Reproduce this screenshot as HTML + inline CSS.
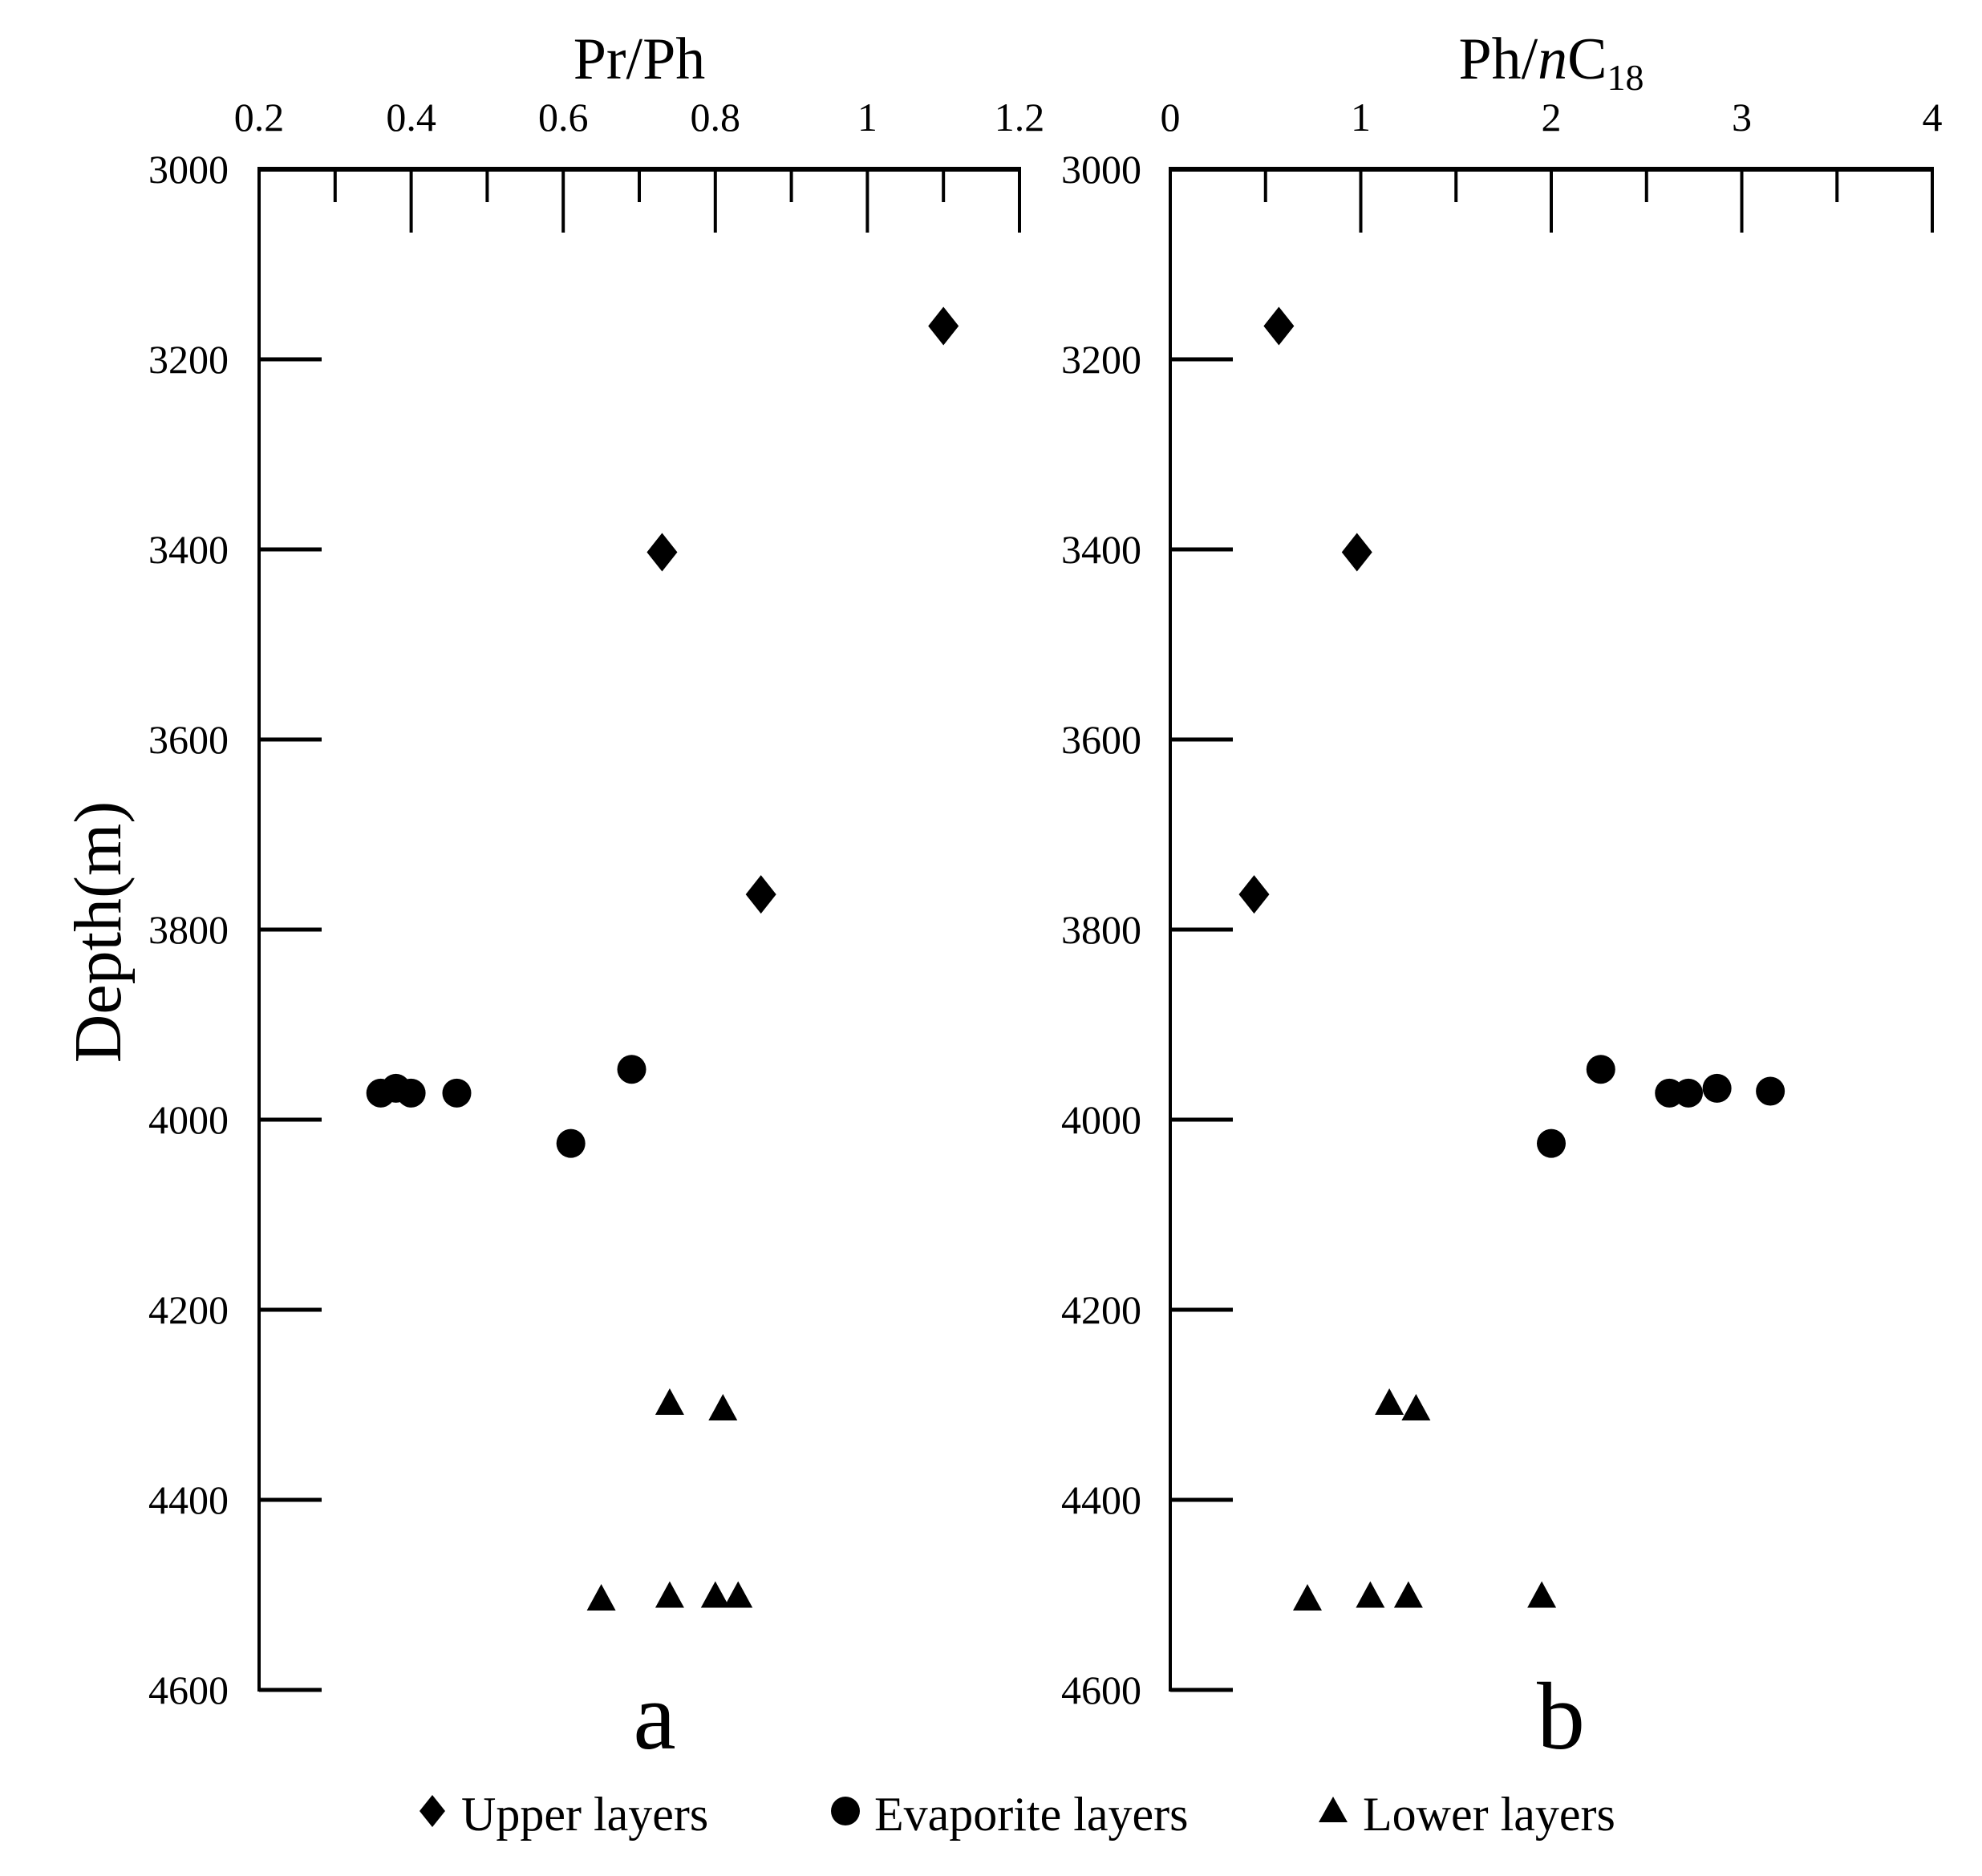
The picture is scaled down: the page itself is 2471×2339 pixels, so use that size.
<!DOCTYPE html>
<html><head><meta charset="utf-8"><style>
html,body{margin:0;padding:0;background:#fff;}
svg{display:block;}
text{font-family:"Liberation Serif",serif;fill:#000;}
</style></head><body>
<svg id="s" width="2471" height="2339" viewBox="0 0 2471 2339" xmlns="http://www.w3.org/2000/svg">
<text x="797" y="98" font-size="74" text-anchor="middle">Pr/Ph</text>
<text x="1934" y="98" font-size="74" text-anchor="middle">Ph/<tspan font-style="italic">n</tspan>C<tspan font-size="46" dy="14">18</tspan></text>
<text transform="translate(150,1162) rotate(-90)" font-size="84" text-anchor="middle">Depth(m)</text>
<text x="816" y="2180" font-size="120" text-anchor="middle">a</text>
<text x="1946" y="2180" font-size="120" text-anchor="middle">b</text>
<g font-size="60">
<polygon points="539,2238 555,2258 539,2278 523,2258"/>
<text x="575" y="2282">Upper layers</text>
<circle cx="1054" cy="2258" r="18"/>
<text x="1090" y="2282">Evaporite layers</text>
<polygon points="1662,2240 1680,2272 1644,2272"/>
<text x="1699" y="2282">Lower layers</text>
</g>
</svg>
<script>
var s=document.getElementById('s'),NS='http://www.w3.org/2000/svg';
function el(t,a,txt){var e=document.createElementNS(NS,t);for(var k in a)e.setAttribute(k,a[k]);if(txt!==undefined)e.textContent=txt;s.appendChild(e);return e;}
function Y(d){return 211+(d-3000)*1.185;}
function panel(x0,x1,xt,labels,minor,lx,pts,xf){
  el('line',{x1:x0,y1:211,x2:x1+2,y2:211,stroke:'#000','stroke-width':6});
  el('line',{x1:x0,y1:208,x2:x0,y2:Y(4600)+2,stroke:'#000','stroke-width':4});
  xt.forEach(function(x,i){el('line',{x1:x,y1:211,x2:x,y2:290,stroke:'#000','stroke-width':4});
    el('text',{x:x,y:163,'font-size':50,'text-anchor':'middle'},labels[i]);});
  minor.forEach(function(x){el('line',{x1:x,y1:211,x2:x,y2:252,stroke:'#000','stroke-width':4});});
  for(var d=3000;d<=4600;d+=200){var y=Y(d);
    if(d>3000)el('line',{x1:x0,y1:y,x2:x0+78,y2:y,stroke:'#000','stroke-width':5});
    el('text',{x:lx,y:y+17,'font-size':50,'text-anchor':'end'},d);}
  pts.forEach(function(p){var x=xf(p[1]),y=Y(p[2]);
    if(p[0]=='d')el('polygon',{points:(x)+','+(y-24)+' '+(x+19)+','+y+' '+x+','+(y+24)+' '+(x-19)+','+y});
    else if(p[0]=='c')el('circle',{cx:x,cy:y,r:18});
    else el('polygon',{points:x+','+(y-17)+' '+(x+18)+','+(y+16)+' '+(x-18)+','+(y+16)});});
}
var L=function(v){return 323+(v-0.2)*948;};
var R=function(v){return 1459+v*237.5;};
var lmaj=[],lmin=[],ll=['0.2','0.4','0.6','0.8','1','1.2'];
for(var i=0;i<6;i++)lmaj.push(L(0.2+0.2*i));for(i=0;i<5;i++)lmin.push(L(0.3+0.2*i));
panel(323,1271,lmaj,ll,lmin,285,[
['d',1.1,3165],['d',0.73,3403],['d',0.86,3763],
['c',0.36,3972],['c',0.38,3967],['c',0.40,3972],['c',0.46,3972],['c',0.69,3947],['c',0.61,4025],
['t',0.74,4297],['t',0.81,4303],['t',0.65,4503],['t',0.74,4500],['t',0.80,4500],['t',0.83,4500]],L);
var rmaj=[],rmin=[];for(i=0;i<5;i++)rmaj.push(R(i));for(i=0;i<4;i++)rmin.push(R(i+0.5));
panel(1459,2409,rmaj,['0','1','2','3','4'],rmin,1423,[
['d',0.57,3165],['d',0.98,3403],['d',0.44,3763],
['c',2.26,3947],['c',2.0,4025],['c',2.62,3972],['c',2.72,3972],['c',2.87,3967],['c',3.15,3970],
['t',1.15,4297],['t',1.29,4303],['t',0.72,4503],['t',1.05,4500],['t',1.25,4500],['t',1.95,4500]],R);
</script>
</body></html>
